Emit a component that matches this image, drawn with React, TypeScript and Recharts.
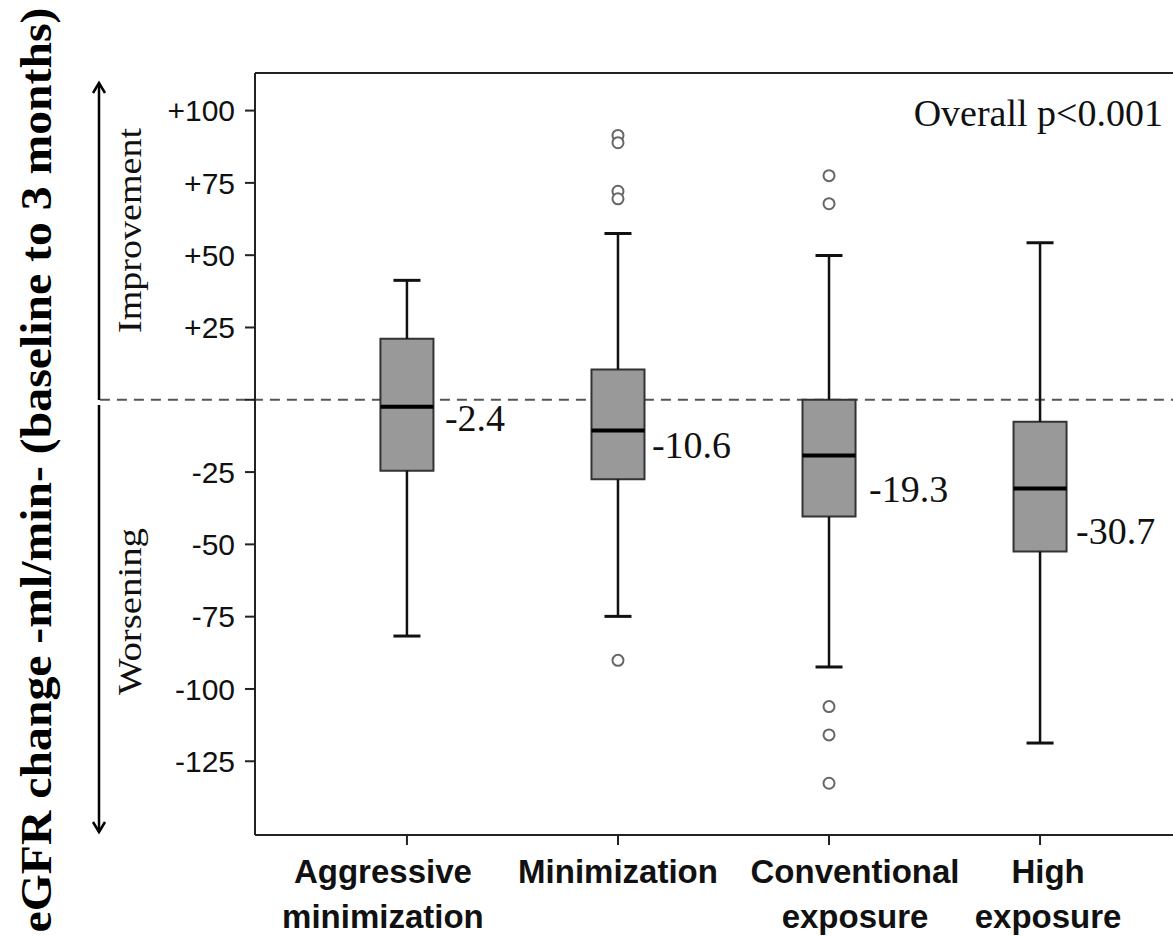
import { ComposedChart, XAxis, YAxis, ReferenceArea, ReferenceLine, Scatter } from 'recharts'

// groups (x positions are the index 0..3)
const GROUPS = ['Aggressive minimization', 'Minimization', 'Conventional exposure', 'High exposure']
const GROUP_LINES = [['Aggressive', 'minimization'], ['Minimization'], ['Conventional', 'exposure'], ['High', 'exposure']]

// box plot stats, eGFR change ml/min
const WHISKER_LOW = [-81.7, -74.9, -92.4, -118.7]
const Q1 = [-24.5, -27.5, -40.4, -52.5]
const MEDIAN = [-2.4, -10.6, -19.3, -30.7]
const Q3 = [21.1, 10.5, 0, -7.6]
const WHISKER_HIGH = [41.3, 57.5, 49.9, 54.3]

// outliers
const OUTLIER_GROUP = [1, 1, 1, 1, 1, 2, 2, 2, 2, 2]
const OUTLIER_VALUE = [91.4, 88.9, 72.1, 69.5, -90.1, 77.5, 67.8, -106.1, -115.9, -132.6]

const Y_TICKS = [-125, -100, -75, -50, -25, 0, 25, 50, 75, 100]
const Y_DOMAIN: [number, number] = [-150.5, 113]
const X_DOMAIN: [number, number] = [-0.72, 3.63]

// drawing constants
const BOX = 0.1256
const CAP = 0.064
const LABEL_SHIFT = [-24, 0, 26, 8]
const MEDIAN_NUDGE = [[38, 24], [34, 28], [40, 46], [36, 55]]
const DARK = '#222'

const outliers = OUTLIER_VALUE.map((v, k) => ({ x: OUTLIER_GROUP[k], y: v }))
const medians = MEDIAN.map((m, i) => ({ x: i, y: m, i }))

function fmtY(v: number) {
  if (v === 0) return ''
  return v > 0 ? `+${v}` : String(v)
}

function XTick(props: any) {
  const { x, y, payload } = props
  const i = payload.value as number
  const lines = GROUP_LINES[i] ?? []
  const cx = x + (LABEL_SHIFT[i] ?? 0)
  return (
    <text x={cx} y={y} textAnchor="middle" fontFamily="'Liberation Sans', Arial, sans-serif" fontWeight="bold" fontSize={33} fill="#111">
      {lines.map((l, k) => (
        <tspan key={k} x={cx} dy={k === 0 ? 38 : 45}>{l}</tspan>
      ))}
    </text>
  )
}

function MedianLabel(props: any) {
  const { cx, cy, payload } = props
  const n = MEDIAN_NUDGE[payload.i]
  return (
    <text x={cx + n[0]} y={cy + n[1]} fontFamily="'Liberation Serif', 'Times New Roman', serif" fontSize={38} fill="#111">
      {String(payload.y)}
    </text>
  )
}

function Outlier(props: any) {
  return <circle cx={props.cx} cy={props.cy} r={5.5} fill="#fff" stroke="#666" strokeWidth={2} />
}

export default function App() {
  return (
    <div style={{ position: 'absolute', left: 0, top: 0, width: 1173, height: 937, background: '#fff' }}>
      <ComposedChart width={1173} height={937} margin={{ top: 73, right: 0, bottom: 0, left: 0 }}>
        <XAxis
          type="number"
          dataKey="x"
          domain={X_DOMAIN}
          ticks={[0, 1, 2, 3]}
          allowDataOverflow
          height={102}
          tickSize={10}
          tickMargin={0}
          axisLine={{ stroke: DARK, strokeWidth: 2 }}
          tickLine={{ stroke: DARK, strokeWidth: 2 }}
          tick={<XTick />}
        />
        <YAxis
          type="number"
          domain={Y_DOMAIN}
          ticks={Y_TICKS}
          allowDataOverflow
          interval={0}
          width={255}
          tickSize={10}
          tickMargin={10}
          tickFormatter={fmtY}
          axisLine={{ stroke: DARK, strokeWidth: 2 }}
          tickLine={{ stroke: DARK, strokeWidth: 2 }}
          tick={{ fontFamily: "'Liberation Sans', Arial, sans-serif", fontSize: 30, fill: '#111' }}
        />
        {/* zero line, runs out to the arrow */}
        <ReferenceLine
          zIndex={50}
          ifOverflow="visible"
          segment={[{ x: -1.455, y: 0 }, { x: X_DOMAIN[1], y: 0 }]}
          stroke="#555"
          strokeWidth={2}
          strokeDasharray="10 7"
        />
        {/* top frame */}
        <ReferenceLine y={Y_DOMAIN[1]} ifOverflow="visible" stroke={DARK} strokeWidth={2} />
        {GROUPS.map((g, i) => (
          <ReferenceArea
            key={`box-${g}`}
            x1={i - BOX}
            x2={i + BOX}
            y1={Q1[i]}
            y2={Q3[i]}
            fill="#999999"
            fillOpacity={1}
            stroke="#333"
            strokeWidth={2}
          />
        ))}
        {GROUPS.map((g, i) => [
          <ReferenceLine key={`wl-${g}`} segment={[{ x: i, y: WHISKER_LOW[i] }, { x: i, y: Q1[i] }]} stroke="#111" strokeWidth={2.5} />,
          <ReferenceLine key={`wh-${g}`} segment={[{ x: i, y: Q3[i] }, { x: i, y: WHISKER_HIGH[i] }]} stroke="#111" strokeWidth={2.5} />,
          <ReferenceLine key={`cl-${g}`} segment={[{ x: i - CAP, y: WHISKER_LOW[i] }, { x: i + CAP, y: WHISKER_LOW[i] }]} stroke="#111" strokeWidth={3} />,
          <ReferenceLine key={`ch-${g}`} segment={[{ x: i - CAP, y: WHISKER_HIGH[i] }, { x: i + CAP, y: WHISKER_HIGH[i] }]} stroke="#111" strokeWidth={3} />,
          <ReferenceLine key={`md-${g}`} segment={[{ x: i - BOX, y: MEDIAN[i] }, { x: i + BOX, y: MEDIAN[i] }]} stroke="#000" strokeWidth={4} />,
        ])}
        <Scatter data={outliers} dataKey="y" shape={<Outlier />} isAnimationActive={false} />
        <Scatter data={medians} dataKey="y" shape={<MedianLabel />} isAnimationActive={false} />
      </ComposedChart>

      <svg width={1173} height={937} style={{ position: 'absolute', left: 0, top: 0, pointerEvents: 'none' }}>
        <text
          transform="translate(51,470) rotate(-90)"
          textAnchor="middle"
          fontFamily="'Liberation Serif', 'Times New Roman', serif"
          fontWeight="bold"
          fontSize={44}
          textLength={925}
          lengthAdjust="spacingAndGlyphs"
          fill="#000"
        >
          eGFR change -ml/min- (baseline to 3 months)
        </text>
        <text
          transform="translate(141,230.5) rotate(-90)"
          textAnchor="middle"
          fontFamily="'Liberation Serif', 'Times New Roman', serif"
          fontSize={33}
          textLength={205}
          lengthAdjust="spacingAndGlyphs"
          fill="#111"
        >
          Improvement
        </text>
        <text
          transform="translate(141,611.5) rotate(-90)"
          textAnchor="middle"
          fontFamily="'Liberation Serif', 'Times New Roman', serif"
          fontSize={33}
          textLength={167}
          lengthAdjust="spacingAndGlyphs"
          fill="#111"
        >
          Worsening
        </text>
        {/* double arrow */}
        <g stroke="#000" strokeWidth={2.5} fill="none">
          <line x1={99} y1={83} x2={99} y2={400} />
          <line x1={99} y1={405} x2={99} y2={832} />
          <polyline points="93,93 99,83 105,93" />
          <polyline points="93,822 99,832 105,822" />
        </g>
        <text x={1163} y={126} textAnchor="end" fontFamily="'Liberation Serif', 'Times New Roman', serif" fontSize={38} fill="#111">
          Overall p&lt;0.001
        </text>
      </svg>
    </div>
  )
}
